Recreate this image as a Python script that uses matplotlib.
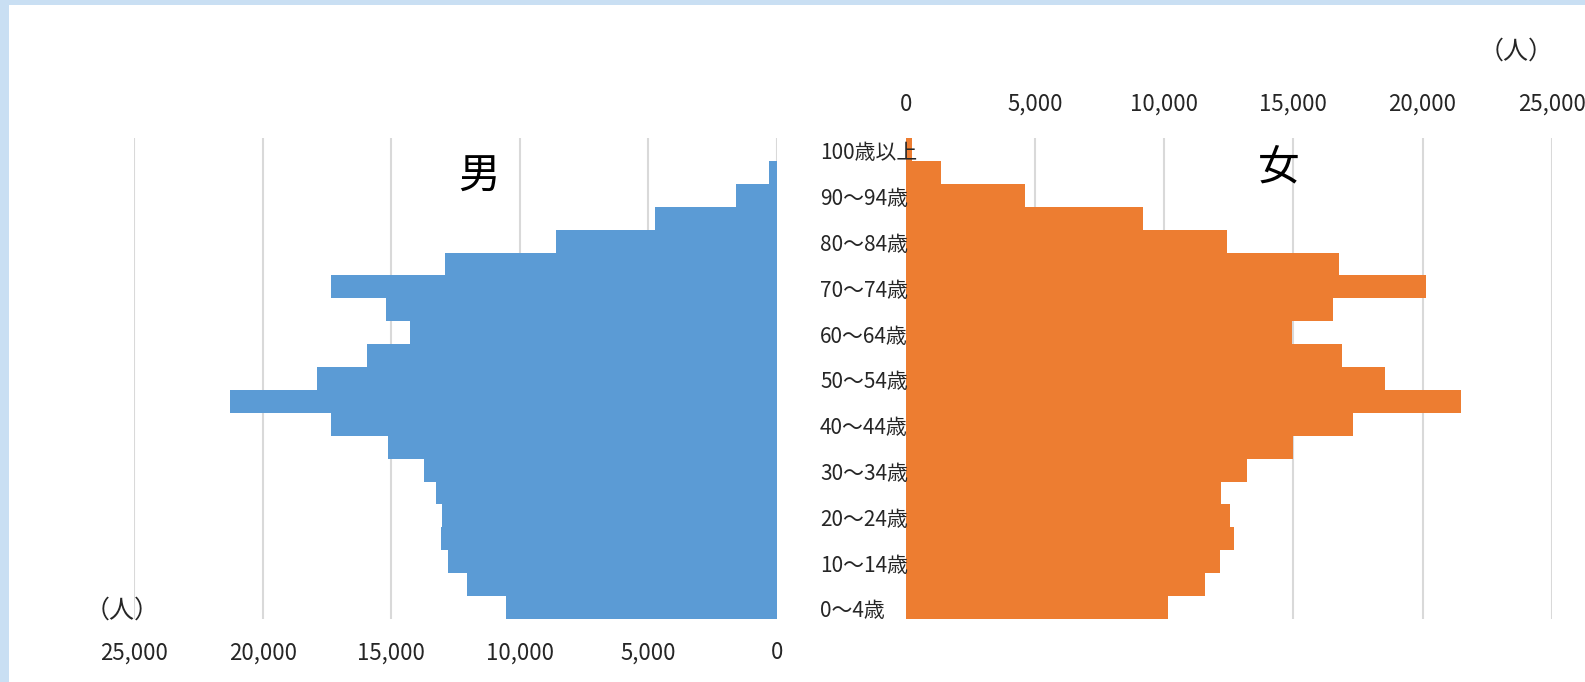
import matplotlib
matplotlib.use("Agg")
import matplotlib.pyplot as plt
import matplotlib.transforms as mtransforms
from matplotlib.patches import Rectangle
from matplotlib.ticker import FuncFormatter

plt.rcParams['font.family'] = ['Noto Sans CJK JP', 'DejaVu Sans']

age_groups = ["0～4歳", "5～9歳", "10～14歳", "15～19歳", "20～24歳", "25～29歳",
              "30～34歳", "35～39歳", "40～44歳", "45～49歳", "50～54歳", "55～59歳",
              "60～64歳", "65～69歳", "70～74歳", "75～79歳", "80～84歳", "85～89歳",
              "90～94歳", "95～99歳", "100歳以上"]
male = [10530, 12070, 12810, 13050, 13010, 13250, 13720, 15130, 17330, 21260,
        17880, 15960, 14270, 15210, 17330, 12890, 8610, 4760, 1610, 300, 10]
female = [10150, 11600, 12150, 12700, 12550, 12200, 13200, 15000, 17300, 21500,
          18530, 16880, 14950, 16530, 20150, 16780, 12450, 9200, 4600, 1370, 230]
x_ticks = [0, 5000, 10000, 15000, 20000, 25000]

W, H = 1585, 682
fig = plt.figure(figsize=(W / 100, H / 100), dpi=100)
fig.patch.set_facecolor("white")

# light blue frame bands
fig.patches.append(Rectangle((0, 1 - 5 / H), 1, 5 / H, transform=fig.transFigure,
                             facecolor="#C9DFF3", edgecolor="none", zorder=0))
fig.patches.append(Rectangle((0, 0), 9 / W, 1, transform=fig.transFigure,
                             facecolor="#C9DFF3", edgecolor="none", zorder=0))

top_px, bot_px = 138, 619
ax_m = fig.add_axes([134 / W, 1 - bot_px / H, 643 / W, (bot_px - top_px) / H])
ax_f = fig.add_axes([905.7 / W, 1 - bot_px / H, 646 / W, (bot_px - top_px) / H])

y = list(range(len(age_groups)))
fmt = FuncFormatter(lambda v, p: f"{int(v):,}")

for ax, vals, color in [(ax_m, male, "#5B9BD5"), (ax_f, female, "#ED7D31")]:
    ax.barh(y, vals, height=1.0, color=color, edgecolor="none", zorder=3)
    ax.set_xlim(0, 25000)
    ax.set_ylim(-0.5, len(age_groups) - 0.5)
    ax.set_xticks(x_ticks)
    ax.xaxis.set_major_formatter(fmt)
    ax.set_yticks([])
    ax.grid(axis="x", color="#D9D9D9", linewidth=1.5, zorder=0)
    ax.set_axisbelow(True)
    for s in ax.spines.values():
        s.set_visible(False)
    ax.tick_params(axis="x", length=0, labelsize=16, labelcolor="#262626")

ax_m.invert_xaxis()
ax_m.tick_params(axis="x", pad=16)
ax_f.xaxis.tick_top()
ax_f.tick_params(axis="x", pad=16)

# category labels, left-aligned between panels
trans = mtransforms.blended_transform_factory(fig.transFigure, ax_f.transData)
for i, lab in enumerate(age_groups):
    if i % 2 == 0:
        ax_f.text(820 / W, i - 0.17, lab, transform=trans, ha="left", va="center",
                  fontsize=15, color="#262626", zorder=5)

# sex titles
fig.text(479 / W, 1 - 177 / H, "男", fontsize=30, ha="center", va="center", color="black")
fig.text(1279 / W, 1 - 168 / H, "女", fontsize=30, ha="center", va="center", color="black")

# units
fig.text(122 / W, 1 - 611 / H, "（人）", fontsize=18, ha="center", va="center", color="#262626")
fig.text(1516 / W, 1 - 52 / H, "（人）", fontsize=18, ha="center", va="center", color="#262626")

fig.savefig("out.png", dpi=100, facecolor="white")
